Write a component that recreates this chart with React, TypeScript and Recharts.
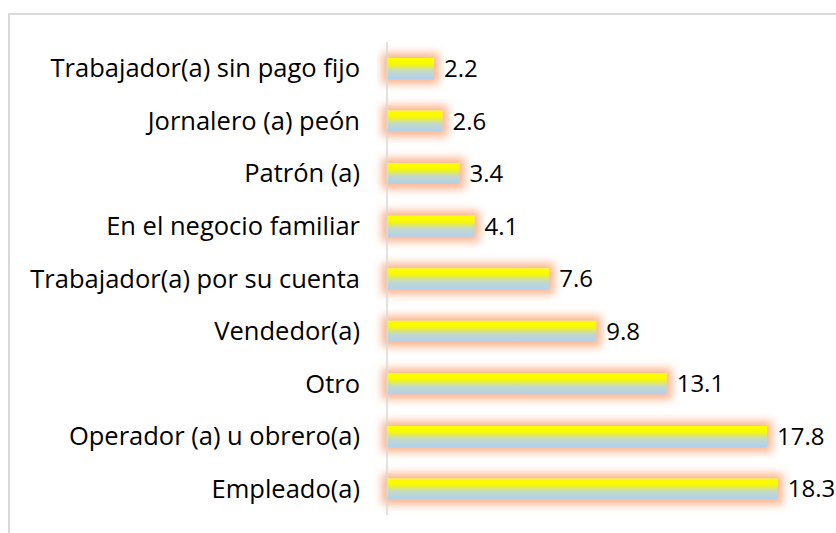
import { BarChart, Bar, XAxis, YAxis, LabelList } from "recharts"

const categories = [
  "Trabajador(a) sin pago fijo",
  "Jornalero (a) peón",
  "Patrón (a)",
  "En el negocio familiar",
  "Trabajador(a) por su cuenta",
  "Vendedor(a)",
  "Otro",
  "Operador (a) u obrero(a)",
  "Empleado(a)"
]

const values = [2.2, 2.6, 3.4, 4.1, 7.6, 9.8, 13.1, 17.8, 18.3]

const data = categories.map((name, i) => ({ name, value: values[i] }))

const FONT = "'Open Sans', sans-serif"

export default function App() {
  return (
    <div
      style={{
        position: "fixed",
        left: 8,
        top: 13,
        right: 0,
        bottom: 0,
        overflow: "hidden"
      }}
    >
      <div
        style={{
          width: 900,
          height: 600,
          border: "2px solid #d9d9d9",
          boxSizing: "border-box",
          background: "#fff"
        }}
      >
        <BarChart
          width={828}
          height={520}
          layout="vertical"
          data={data}
          margin={{ top: 27, right: 24, bottom: 20, left: 0 }}
        >
          <defs>
            <linearGradient id="barFill" x1="0" y1="0" x2="0" y2="1">
              <stop offset="0%" stopColor="#ffff00" />
              <stop offset="28%" stopColor="#f8f800" />
              <stop offset="62%" stopColor="#c4d9c8" />
              <stop offset="100%" stopColor="#b0d0ee" />
            </linearGradient>
            {/* soft peach glow round each bar */}
            <filter id="glow" x="-20%" y="-100%" width="140%" height="300%">
              <feMorphology in="SourceAlpha" operator="dilate" radius="5" result="fat" />
              <feFlood floodColor="#fbb48c" result="col" />
              <feComposite in="col" in2="fat" operator="in" result="shadow" />
              <feGaussianBlur in="shadow" stdDeviation="4" result="blur" />
              <feMerge>
                <feMergeNode in="blur" />
                <feMergeNode in="SourceGraphic" />
              </feMerge>
            </filter>
          </defs>
          <XAxis type="number" domain={[0, 20]} hide />
          <YAxis
            type="category"
            dataKey="name"
            width={377}
            axisLine={{ stroke: "#d9d9d9", strokeWidth: 1.5 }}
            tickLine={false}
            tickSize={0}
            tickMargin={27}
            interval={0}
            tick={{ fill: "#000", fontSize: 25.5, fontFamily: FONT }}
          />
          <Bar
            dataKey="value"
            barSize={21}
            fill="url(#barFill)"
            filter="url(#glow)"
            isAnimationActive={false}
          >
            <LabelList
              dataKey="value"
              position="right"
              offset={10}
              fill="#000"
              fontSize={24}
              fontFamily={FONT}
              formatter={(v: any) => Number(v).toFixed(1)}
            />
          </Bar>
        </BarChart>
      </div>
    </div>
  )
}
